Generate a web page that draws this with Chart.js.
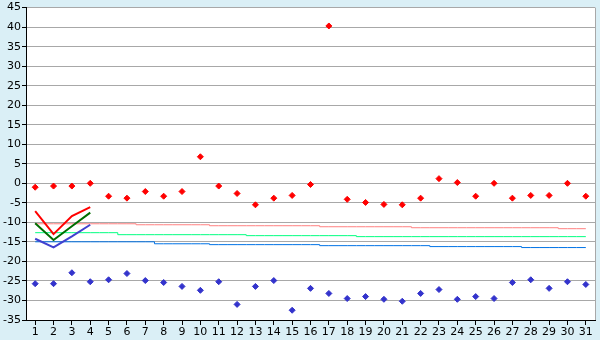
<!DOCTYPE html>
<html>
<head>
<meta charset="utf-8">
<script src="https://cdn.jsdelivr.net/npm/chart.js@4/dist/chart.umd.min.js"></script>
<style>
  body { margin: 0; background: #daeff6; }
</style>
</head>
<body>
<canvas id="myChart" width="600" height="340"></canvas>
<script>
const days = [ '1', '2', '3', '4', '5', '6', '7', '8', '9', '10', '11', '12', '13', '14', '15', '16',
	'17', '18', '19', '20', '21', '22', '23', '24', '25', '26', '27', '28', '29', '30', '31' ];

const maxTemp = [ -1.0, -0.7, -0.7, 0, -3.3, -3.8, -2.1, -3.3, -2.1, 6.8, -0.7, -2.6, -5.5, -3.8, -3.1, -0.3,
	40.3, -4.1, -4.9, -5.4, -5.5, -3.8, 1.2, 0.2, -3.3, 0, -3.8, -3.1, -3.1, 0, -3.3 ];
const minTemp = [ -25.7, -25.7, -22.9, -25.2, -24.7, -23.1, -24.9, -25.4, -26.4, -27.4, -25.2, -31.0, -26.4, -24.9, -32.5, -26.9,
	-28.2, -29.5, -29.0, -29.7, -30.2, -28.2, -27.2, -29.7, -29.0, -29.5, -25.4, -24.7, -26.9, -25.2, -25.9 ];

// forecast, first days only
const fcMax = [ -7.1, -13.0, -8.4, -6.1 ];
const fcMean = [ -10.2, -14.5, -11.0, -7.5 ];
const fcMin = [ -14.2, -16.4, -13.6, -10.6 ];

// normals
const normMax = [ -10.36, -10.36, -10.36, -10.36, -10.36, -10.36, -10.61, -10.61, -10.61, -10.61, -10.86, -10.86, -10.86, -10.86, -10.86, -10.86,
	-11.12, -11.12, -11.12, -11.12, -11.12, -11.37, -11.37, -11.37, -11.37, -11.37, -11.37, -11.37, -11.37, -11.62, -11.62 ];
const normMean = [ -12.64, -12.64, -12.64, -12.64, -12.64, -13.15, -13.15, -13.15, -13.15, -13.15, -13.15, -13.15, -13.4, -13.4, -13.4, -13.4,
	-13.4, -13.4, -13.65, -13.65, -13.65, -13.65, -13.65, -13.65, -13.65, -13.65, -13.65, -13.65, -13.65, -13.65, -13.65 ];
const normMin = [ -14.97, -14.97, -14.97, -14.97, -14.97, -14.97, -14.97, -15.48, -15.48, -15.48, -15.7, -15.7, -15.7, -15.7, -15.7, -15.7,
	-15.96, -15.96, -15.96, -15.96, -15.96, -15.96, -16.2, -16.2, -16.2, -16.2, -16.2, -16.45, -16.45, -16.45, -16.45 ];

const plotBox = {
	id: 'plotBox',
	beforeDraw(chart) {
		const a = chart.chartArea;
		const c = chart.ctx;
		c.save();
		c.fillStyle = '#ffffff';
		c.fillRect(a.left, a.top, a.right - a.left, a.bottom - a.top);
		c.restore();
	},
	afterDraw(chart) {
		const a = chart.chartArea;
		const c = chart.ctx;
		c.save();
		c.strokeStyle = '#a8a8a8';
		c.lineWidth = 1;
		c.beginPath();
		c.moveTo(Math.round(a.right) + 0.5, a.top);
		c.lineTo(Math.round(a.right) + 0.5, a.bottom);
		c.stroke();
		c.restore();
	}
};

Chart.defaults.font.family = 'DejaVu Sans';
Chart.defaults.font.size = 11;
Chart.defaults.color = '#000';

const thin = (data, color) => ({
	type: 'line', data: data, borderColor: color, borderWidth: 1, pointRadius: 0, stepped: 'middle', fill: false
});
const thick = (data, color) => ({
	type: 'line', data: data, borderColor: color, borderWidth: 2, pointRadius: 0, fill: false
});
const dots = (data, color) => ({
	type: 'line', data: data, showLine: false, pointStyle: 'rectRot', pointRadius: 3,
	backgroundColor: color, borderColor: color, borderWidth: 1
});

const chart = new Chart(document.getElementById('myChart').getContext('2d'), {
	data: {
		labels: days,
		datasets: [
			dots(maxTemp, '#ff0000'),
			dots(minTemp, '#3333cc'),
			thick(fcMax, '#ff0000'),
			thick(fcMean, '#006e00'),
			thick(fcMin, '#4040d0'),
			thin(normMax, '#ff8080'),
			thin(normMean, '#00ff80'),
			thin(normMin, '#0073e6')
		]
	},
	options: {
		responsive: false,
		animation: false,
		layout: { padding: { top: 5, right: 5, left: 0, bottom: 0 } },
		plugins: {
			legend: { display: false },
			tooltip: { enabled: false }
		},
		scales: {
			x: {
				type: 'category',
				offset: true,
				grid: { offset: false, drawOnChartArea: false, tickLength: 5, tickColor: '#000' },
				border: { color: '#000' },
				ticks: { maxRotation: 0, autoSkip: false, padding: 1 },
				afterFit: (s) => { s.height = 20; }
			},
			y: {
				min: -35,
				max: 45,
				ticks: { stepSize: 5, padding: 1 },
				grid: { color: '#a8a8a8', tickColor: '#000', tickLength: 4 },
				border: { color: '#000' },
				afterFit: (s) => { s.width = 26; }
			}
		}
	},
	plugins: [ plotBox ]
});
</script>
</body>
</html>
